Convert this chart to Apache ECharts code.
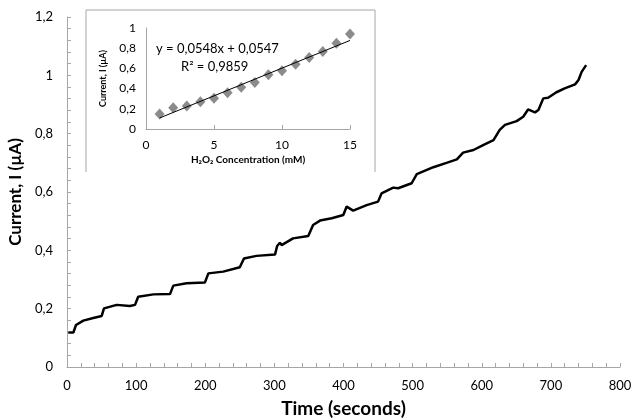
<!DOCTYPE html>
<html><head><meta charset="utf-8">
<script src="https://cdn.jsdelivr.net/npm/echarts@6/dist/echarts.min.js"></script>
<style>html,body{margin:0;padding:0;background:#fff}#c{width:639px;height:419px}</style>
</head><body><div id="c"></div>
<script>
// Main amperometric trace: time (s), current (µA)
const timeS = [1.9,9.2,13,23.6,38,50.2,53.5,71.9,91,98.4,103,125,149,153.8,173,199.6,204.5,226,250,256,274,301,304,308,310.5,327,349,356,366,383,399.7,404.6,414,433.5,450,455,472,479,498.6,506,530,549,564,573,588,602,617,626,633.6,650.5,660,667,677,682,689,696,708,720,735,740,744.5,751];
const currentUA = [0.118,0.118,0.144,0.159,0.168,0.175,0.201,0.213,0.209,0.213,0.241,0.249,0.250,0.279,0.287,0.290,0.321,0.327,0.342,0.372,0.381,0.386,0.415,0.426,0.418,0.441,0.449,0.487,0.502,0.510,0.521,0.550,0.536,0.555,0.567,0.595,0.615,0.613,0.630,0.661,0.685,0.700,0.712,0.735,0.744,0.761,0.778,0.813,0.830,0.843,0.858,0.883,0.873,0.881,0.921,0.923,0.942,0.955,0.969,0.984,1.012,1.035];
// Inset calibration: H2O2 concentration (mM), current (µA)
const concMM = [1,2,3,4,5,6,7,8,9,10,11,12,13,14,15];
const calibUA = [0.149,0.21,0.228,0.27,0.305,0.36,0.414,0.46,0.536,0.576,0.642,0.709,0.768,0.85,0.94];
// Linear trendline endpoints
const trendX = [1,15];
const trendY = [0.109,0.877];
const eqText = 'y = 0,0548x + 0,0547';
const r2Text = 'R² = 0,9859';

const comma = v => String(+v.toFixed(2)).replace('.', ',');
const font = 'Lato, "Open Sans", sans-serif';
const axisGray = '#a6a6a6';

const chart = echarts.init(document.getElementById('c'));
chart.setOption({
  animation: false,
  textStyle: {fontFamily: font},
  grid: [
    {left: 67, top: 17, width: 553, height: 350, outerBoundsMode: 'none', containLabel: false},
    {left: 146, top: 28, width: 204, height: 101, outerBoundsMode: 'none', containLabel: false}
  ],
  xAxis: [
    {gridIndex: 0, type: 'value', min: 0, max: 800, interval: 100,
     name: 'Time (seconds)', nameLocation: 'middle', nameGap: 32,
     nameTextStyle: {fontSize: 19, fontWeight: 'bold', color: '#000', fontFamily: font},
     axisLine: {show: true, lineStyle: {color: axisGray}},
     axisTick: {show: true, inside: true, length: 4, lineStyle: {color: axisGray}},
     minorTick: {show: true, splitNumber: 5, length: 4, lineStyle: {color: axisGray}},
     splitLine: {show: false},
     axisLabel: {fontSize: 13, color: '#000', margin: 12, formatter: v => comma(v)}},
    {gridIndex: 1, type: 'value', min: 0, max: 15, interval: 5,
     name: 'H\u2082O\u2082 Concentration (mM)', nameLocation: 'middle', nameGap: 26,
     nameTextStyle: {fontSize: 10, fontWeight: 'bold', color: '#000', fontFamily: font},
     axisLine: {show: true, lineStyle: {color: axisGray}},
     axisTick: {show: true, inside: true, length: 4, lineStyle: {color: axisGray}},
     splitLine: {show: false},
     axisLabel: {fontSize: 12, color: '#000', margin: 10, formatter: v => comma(v)}}
  ],
  yAxis: [
    {gridIndex: 0, type: 'value', min: 0, max: 1.2, interval: 0.2,
     name: 'Current, I (\u00b5A)', nameLocation: 'middle', nameGap: 33, nameRotate: 90,
     nameTextStyle: {fontSize: 17, fontWeight: 'bold', color: '#000', fontFamily: font},
     axisLine: {show: true, lineStyle: {color: axisGray}},
     axisTick: {show: true, inside: true, length: 4, lineStyle: {color: axisGray}},
     minorTick: {show: true, splitNumber: 5, length: 4, lineStyle: {color: axisGray}},
     splitLine: {show: false},
     axisLabel: {fontSize: 13, color: '#000', margin: 14, formatter: v => comma(v)}},
    {gridIndex: 1, type: 'value', min: 0, max: 1, interval: 0.2,
     name: 'Current, I (\u00b5A)', nameLocation: 'middle', nameGap: 38, nameRotate: 90,
     nameTextStyle: {fontSize: 9, fontWeight: 'bold', color: '#000', fontFamily: font},
     axisLine: {show: true, lineStyle: {color: axisGray}},
     axisTick: {show: false},
     splitLine: {show: false},
     axisLabel: {fontSize: 12, color: '#000', margin: 10, formatter: v => comma(v)}}
  ],
  graphic: [
    {type: 'polyline', shape: {points: [[86, 172], [86, 10], [375, 10], [375, 172]]},
     style: {stroke: axisGray, lineWidth: 1, fill: null}, z: 1},
    {type: 'text', left: 156, top: 42, style: {text: eqText, font: '13px ' + font, fill: '#000'}},
    {type: 'text', left: 181, top: 60, style: {text: r2Text, font: '13px ' + font, fill: '#000'}}
  ],
  series: [
    {type: 'line', xAxisIndex: 0, yAxisIndex: 0, showSymbol: false,
     data: timeS.map((t, i) => [t, currentUA[i]]),
     lineStyle: {color: '#000', width: 2.5}},
    {type: 'line', xAxisIndex: 1, yAxisIndex: 1, showSymbol: false,
     data: trendX.map((x, i) => [x, trendY[i]]),
     lineStyle: {color: '#000', width: 1}},
    {type: 'scatter', xAxisIndex: 1, yAxisIndex: 1, symbol: 'diamond', symbolSize: [10, 11],
     data: concMM.map((x, i) => [x, calibUA[i]]),
     itemStyle: {color: '#6e6e6e'}}
  ]
});
</script></body></html>
